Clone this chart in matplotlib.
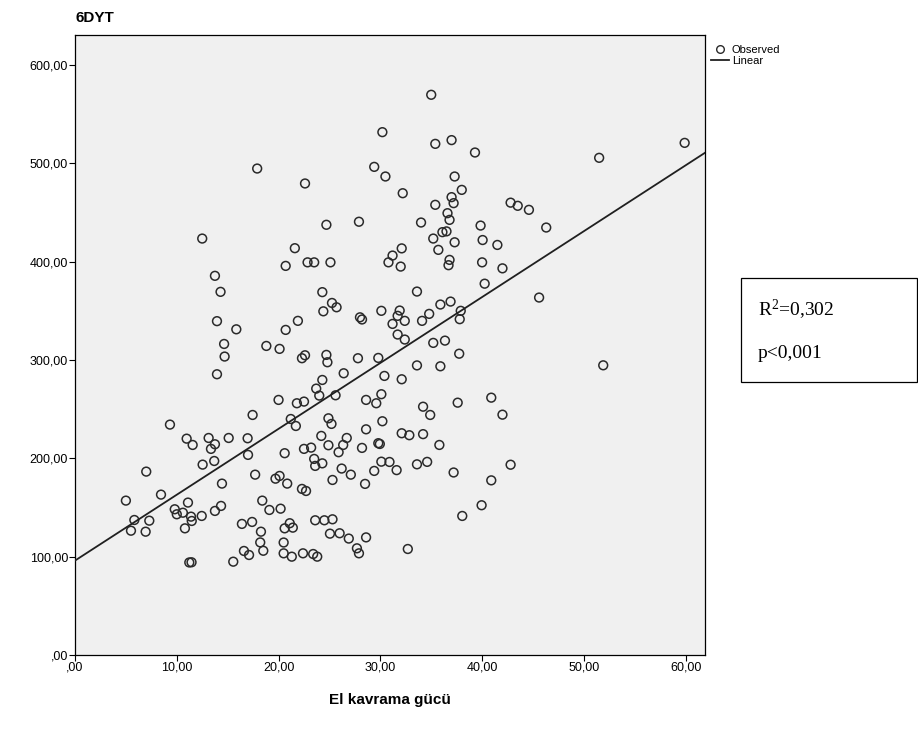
import matplotlib
matplotlib.use("Agg")
import matplotlib.pyplot as plt
from matplotlib.patches import Rectangle
from matplotlib.lines import Line2D
import numpy as np

# Data
grip = [35.0, 35.4, 37.0, 39.3, 37.3, 38.0, 35.4, 37.0, 37.2, 42.8, 43.5, 44.6, 36.6, 36.8, 34.0,
        39.85, 46.3, 36.1, 36.5, 35.2, 37.3, 40.05, 41.5, 35.7, 30.2, 29.4, 30.5, 22.6, 32.2, 24.7,
        27.9, 21.6, 32.1, 17.9, 12.5, 51.5, 59.9,
        13.75, 14.3, 13.95, 15.85, 18.8, 14.65, 14.7, 13.95,
        20.7, 22.85, 23.5, 25.1, 31.2, 30.8, 32.0, 33.6, 24.3, 25.25, 25.7, 24.4, 28.0, 28.2, 30.1,
        31.9, 31.7, 32.4, 31.2, 34.1, 21.9, 20.7, 31.7, 32.4, 20.1, 22.3, 22.6, 24.7, 24.8, 27.8,
        29.8, 33.6, 26.4, 30.4, 32.1, 24.3, 23.7, 24.0, 25.6, 20.0, 21.8, 22.5, 28.6, 30.1, 29.6, 34.2,
        36.8, 36.7, 40.0, 42.0, 40.25, 45.6, 36.9, 35.9, 37.9, 34.8, 37.8, 35.2, 36.35, 37.75, 35.9,
        40.9, 37.6, 42.0, 51.9,
        17.45, 9.33, 10.97, 11.56, 13.13, 13.75, 13.36, 15.1, 16.96, 17.0, 12.54, 13.68, 7.0, 17.7,
        14.44, 8.45, 5.0, 18.4, 19.1, 9.8, 10.0, 10.6, 11.1, 11.4, 11.47, 10.8, 12.45, 13.75, 14.35,
        5.83, 7.3, 5.5, 6.94, 16.4, 17.4, 18.27, 18.2, 18.5, 16.6, 17.1, 15.55, 11.23, 11.45,
        24.9, 25.2, 21.2, 21.7, 30.2, 28.6, 32.1, 32.85, 34.2, 24.2, 26.7, 22.5, 23.2, 24.9, 26.35,
        25.9, 28.2, 29.8, 29.95, 20.6, 23.5, 24.3, 23.6, 26.2, 27.1, 30.1, 30.9, 29.4, 31.6, 33.6,
        34.6, 25.3, 28.5, 19.7, 20.1, 20.85, 22.3, 22.7, 20.2, 20.6, 21.1, 21.4, 23.6, 24.5, 25.3,
        25.05, 26.0, 26.9, 28.6, 20.5, 20.5, 21.3, 22.4, 23.4, 23.8, 27.7, 27.9, 32.7,
        34.9, 35.8, 37.2, 42.8, 40.9, 39.95, 38.05]

walk = [569.7, 519.8, 523.6, 511, 486.6, 473, 457.8, 465.6, 459.5, 460, 456.8, 452.7, 449.3, 442.5, 439.8,
        436.7, 434.7, 430, 430.8, 423.5, 419.7, 422, 417, 412, 531.7, 496.4, 486.6, 479.5, 469.6, 437.5,
        440.6, 413.7, 413.5, 494.7, 423.5, 505.6, 520.8,
        385.6, 369.3, 339.5, 331.2, 314.3, 316.3, 303.5, 285.5,
        395.7, 399.3, 399.3, 399.3, 406.2, 399.3, 395, 369.6, 369, 358, 353.6, 349.5, 343.4, 341.2, 350,
        350.3, 344.9, 339.8, 336.7, 339.8, 339.8, 330.6, 325.9, 320.8, 311.3, 301.8, 304.8, 305.2, 297.7, 301.8,
        302.1, 294.5, 286.5, 283.8, 280.4, 279.7, 270.9, 263.8, 264.1, 259.4, 256, 257.7, 259.4, 265.2, 256, 252.5,
        401.8, 396.4, 399.3, 393.2, 377.6, 363.5, 359.4, 356.4, 350, 346.9, 341.5, 317.4, 319.7, 306.4, 293.6,
        261.7, 256.6, 244.4, 294.6,
        244.1, 234.3, 220, 213.6, 220.7, 214.3, 209.6, 220.7, 220.4, 203.5, 193.6, 197.3, 186.5, 183.4,
        174.3, 163.1, 157, 157, 147.5, 148.2, 143.1, 144.7, 155, 140.7, 136.3, 128.8, 141.4, 146.5, 151.6,
        137.3, 136.6, 126.4, 125.4, 133.3, 135.3, 125.4, 114.5, 106, 105.8, 101.7, 94.9, 94.1, 94.3,
        240.7, 235, 240, 232.9, 237.7, 229.5, 225.5, 223.5, 224.6, 222.8, 220.7, 209.6, 210.9, 213.3, 213.6,
        206.2, 210.6, 215.4, 214.6, 205.2, 199.4, 194.9, 192.3, 189.6, 183.4, 196.6, 196.3, 187.2, 188, 193.9,
        196.4, 178, 174, 179.3, 182.1, 174.3, 168.9, 166.8, 148.8, 128.8, 134, 129.5, 137, 137, 138,
        123.4, 123.8, 118.4, 119.6, 114.4, 103.4, 100, 103.4, 102.7, 100, 108.5, 103.4, 107.8,
        244.1, 213.6, 185.6, 193.5, 177.6, 152.3, 141.4]

fit_intercept = 96.0
fit_slope = 6.7

x_ticks = [0, 10, 20, 30, 40, 50, 60]
y_ticks = [0, 100, 200, 300, 400, 500, 600]
x_ticklabels = [",00", "10,00", "20,00", "30,00", "40,00", "50,00", "60,00"]
y_ticklabels = [",00", "100,00", "200,00", "300,00", "400,00", "500,00", "600,00"]

plt.rcParams['font.family'] = ['Liberation Sans', 'DejaVu Sans']
plt.rcParams['mathtext.fontset'] = 'custom'
plt.rcParams['mathtext.rm'] = 'Liberation Serif'
plt.rcParams['mathtext.it'] = 'Liberation Serif:italic'
plt.rcParams['mathtext.bf'] = 'Liberation Serif:bold'
plt.rcParams['mathtext.default'] = 'rm'

W, H = 918, 735
fig = plt.figure(figsize=(W / 100, H / 100), dpi=100)
ax = fig.add_axes([75 / W, (H - 655) / H, (705 - 75) / W, (655 - 35) / H])
ax.set_facecolor('#f0f0f0')

xmax = 61.9
ymax = 630.5
ax.set_xlim(0, xmax)
ax.set_ylim(0, ymax)

ax.scatter(grip, walk, s=40, facecolors='none', edgecolors='#2a2a2a', linewidths=1.1, zorder=3)
xl = np.array([0, xmax])
ax.plot(xl, fit_intercept + fit_slope * xl, color='#202020', lw=1.3, zorder=4)

ax.set_xticks(x_ticks)
ax.set_xticklabels(x_ticklabels, fontsize=9)
ax.set_yticks(y_ticks)
ax.set_yticklabels(y_ticklabels, fontsize=9)
ax.tick_params(direction='out', length=4, width=0.8, colors='black', pad=1)
for s in ax.spines.values():
    s.set_color('black')
    s.set_linewidth(0.9)

ax.set_xlabel("El kavrama gücü", fontsize=11, fontweight='bold', labelpad=14)
fig.text(75 / W, 1 - 18 / H, "6DYT", fontsize=11, fontweight='bold', ha='left', va='center')

handles = [Line2D([], [], marker='o', ls='none', markerfacecolor='none', markeredgecolor='#2a2a2a',
                  markersize=5.5, markeredgewidth=1.0),
           Line2D([], [], color='#202020', lw=1.3)]
fig.legend(handles, ["Observed", "Linear"], loc='upper left', bbox_to_anchor=(703 / W, 1 - 37 / H),
           frameon=False, fontsize=8, handlelength=1.6, handletextpad=0.3, labelspacing=0.1,
           borderpad=0.2)

serif = ['Liberation Serif', 'DejaVu Serif']
fig.patches.append(Rectangle((741 / W, 1 - 382 / H), (917 - 741) / W, (382 - 278) / H,
                             transform=fig.transFigure, fill=False, edgecolor='black', lw=0.9))
fig.text(758 / W, 1 - 310 / H, "R$^{2}$=0,302", fontsize=14, family=serif,
         ha='left', va='center')
fig.text(758 / W, 1 - 353 / H, "p<0,001", fontsize=14, family=serif,
         ha='left', va='center')

fig.savefig("out.png", dpi=100, facecolor='white')
